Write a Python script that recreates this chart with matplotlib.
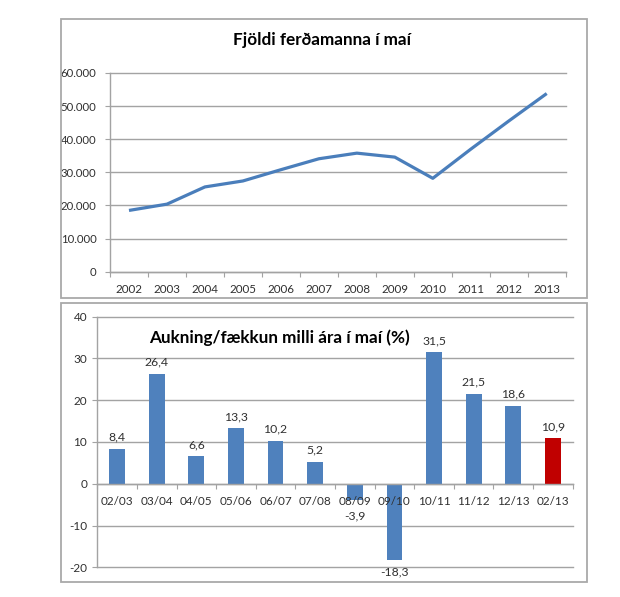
#!/usr/bin/env python
# -*- coding: utf-8 -*-

import matplotlib
matplotlib.use("Agg")
import matplotlib.pyplot as plt
from matplotlib.patches import Rectangle
import numpy as np

ar = ["2002", "2003", "2004", "2005", "2006", "2007",
      "2008", "2009", "2010", "2011", "2012", "2013"]
ferdamenn = [18500, 20400, 25600, 27400, 30800, 34100,
             35800, 34600, 28200, 37000, 45500, 53800]

timabil = ["02/03", "03/04", "04/05", "05/06", "06/07", "07/08",
           "08/09", "09/10", "10/11", "11/12", "12/13", "02/13"]
breyting = [8.4, 26.4, 6.6, 13.3, 10.2, 5.2, -3.9, -18.3, 31.5, 21.5, 18.6, 10.9]

y_ticks_top = [0, 10000, 20000, 30000, 40000, 50000, 60000]
y_labels_top = ["0", "10.000", "20.000", "30.000", "40.000", "50.000", "60.000"]
y_ticks_bottom = [-20, -10, 0, 10, 20, 30, 40]

W, H = 620, 597
GRID = "#a3a3a3"
FRAME = "#a9a9a9"
TEXT = "#303030"
BLUE = "#4f81bd"
RED = "#c00000"

plt.rcParams["font.family"] = ["Lato", "DejaVu Sans"]
plt.rcParams["axes.unicode_minus"] = False


def ax_pixels(fig, left, top, right, bottom):
    # axes from pixel edges, y counted from the top of the picture
    return fig.add_axes([left / W, 1 - bottom / H, (right - left) / W, (bottom - top) / H])


def frame(fig, left, top, right, bottom):
    fig.add_artist(Rectangle((left / W, 1 - bottom / H), (right - left) / W, (bottom - top) / H,
                             transform=fig.transFigure, fill=False, edgecolor=FRAME, linewidth=1.3))


def common_axes(ax, labels, x_size, x_pad, y_size, y_pad):
    n = len(labels)
    ax.set_xlim(-0.5, n - 0.5)
    ax.set_xticks(np.arange(n))
    ax.set_xticklabels(labels)
    ax.set_xticks(np.arange(n + 1) - 0.5, minor=True)
    ax.tick_params(axis="x", which="major", length=0, labelsize=x_size, labelcolor=TEXT, pad=x_pad)
    ax.tick_params(axis="x", which="minor", length=3.5, width=0.8, color=GRID)
    ax.tick_params(axis="y", length=3.5, width=0.8, color=GRID, labelsize=y_size, labelcolor=TEXT, pad=y_pad)
    ax.grid(axis="y", color=GRID, linewidth=1)
    ax.set_axisbelow(True)
    # the first and last gridlines sit on the edge of the axes, do not cut them
    for linea in ax.get_ygridlines():
        linea.set_clip_on(False)
    for side in ["top", "right"]:
        ax.spines[side].set_visible(False)
    for side in ["left", "bottom"]:
        ax.spines[side].set_color(GRID)
        ax.spines[side].set_linewidth(1)


def main():
    fig = plt.figure(figsize=(W / 100, H / 100), dpi=100, facecolor="white")

    frame(fig, 60.5, 18.7, 586.7, 297.7)
    frame(fig, 60.5, 302.7, 586.7, 581.7)

    # line chart
    ax1 = ax_pixels(fig, 110, 73, 565.7, 271.7)
    ax1.plot(np.arange(len(ar)), ferdamenn, color="#4a7ebb", linewidth=2.3, solid_capstyle="butt")
    ax1.set_ylim(0, 60000)
    ax1.set_yticks(y_ticks_top)
    ax1.set_yticklabels(y_labels_top)
    common_axes(ax1, ar, 8.4, 9, 8.2, 6.3)
    fig.text(322 / W, 1 - 40 / H, "Fjöldi ferðamanna í maí", fontsize=12.3, fontweight="bold",
             color="black", ha="center", va="center")

    # bar chart, the x axis crosses at zero
    ax2 = ax_pixels(fig, 97.3, 316.7, 572.7, 567.3)
    ax2.spines["bottom"].set_position(("data", 0))
    litir = [BLUE] * (len(timabil) - 1) + [RED]
    stolpar = ax2.bar(np.arange(len(timabil)), breyting, width=0.4, color=litir)
    ax2.set_ylim(-20, 40)
    ax2.set_yticks(y_ticks_bottom)
    common_axes(ax2, timabil, 8.5, 9, 8.5, 3.8)
    # the x labels go over the bars, the y grid stays under them
    ax2.xaxis.set_zorder(5)
    etiquetas = ax2.bar_label(stolpar, labels=[str(v).replace(".", ",") for v in breyting],
                              padding=4.5, fontsize=8.8, color=TEXT)
    # -3,9 has to clear the 08/09 label under the axis
    etiquetas[timabil.index("08/09")].xyann = (0, -7.5)
    fig.text(279 / W, 1 - 338 / H, "Aukning/fækkun milli ára í maí (%)", fontsize=12.3,
             fontweight="bold", color="black", ha="center", va="center")

    fig.savefig("out.png", dpi=100)


if __name__ == "__main__":
    main()
